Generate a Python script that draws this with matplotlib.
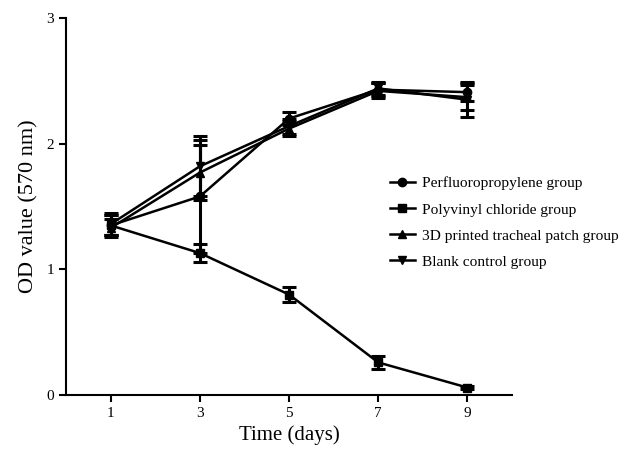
import matplotlib.pyplot as plt

days = [1, 3, 5, 7, 9]
groups = ["Perfluoropropylene group", "Polyvinyl chloride group",
          "3D printed tracheal patch group", "Blank control group"]
markers = ["o", "s", "^", "v"]

# mean OD values
perfluoro = [1.35, 1.58, 2.20, 2.43, 2.41]
pvc = [1.35, 1.13, 0.80, 0.26, 0.06]
patch3d = [1.33, 1.77, 2.12, 2.42, 2.37]
blank = [1.36, 1.82, 2.14, 2.44, 2.35]

# error bars (SD)
perfluoro_err = [0.08, 0.45, 0.05, 0.05, 0.07]
pvc_err = [0.08, 0.07, 0.06, 0.05, 0.01]
patch3d_err = [0.07, 0.22, 0.06, 0.06, 0.10]
blank_err = [0.09, 0.24, 0.06, 0.05, 0.14]

plt.rcParams['font.family'] = ['Liberation Serif', 'DejaVu Serif']

fig = plt.figure(figsize=(6.29, 4.5), dpi=100)
ax = fig.add_axes([0.105, 0.122, 0.709, 0.838])

means = [perfluoro, pvc, patch3d, blank]
errs = [perfluoro_err, pvc_err, patch3d_err, blank_err]
for name, m, y, e in zip(groups, markers, means, errs):
    ax.errorbar(days, y, yerr=e, color='black', marker=m, markersize=6,
                linewidth=1.8, elinewidth=2.2, capsize=5, capthick=2.2,
                label=name)

ax.set_xlim(0, 10)
ax.set_ylim(0, 3)
ax.set_xticks(days)
ax.set_yticks([0, 1, 2, 3])
ax.spines['top'].set_visible(False)
ax.spines['right'].set_visible(False)
ax.spines['left'].set_linewidth(1.5)
ax.spines['bottom'].set_linewidth(1.5)
ax.tick_params(direction='out', length=5, width=1.5, labelsize=11)
ax.set_xlabel('Time (days)', fontsize=15)
ax.set_ylabel('OD value (570 nm)', fontsize=16, labelpad=6)

handles, labels = ax.get_legend_handles_labels()
handles = [h[0] for h in handles]
fig.legend(handles, labels, loc='center left', bbox_to_anchor=(0.598, 0.505),
           frameon=False, fontsize=11.1, handlelength=1.6, labelspacing=0.8,
           handletextpad=0.5)

fig.savefig('out.png', dpi=100)
